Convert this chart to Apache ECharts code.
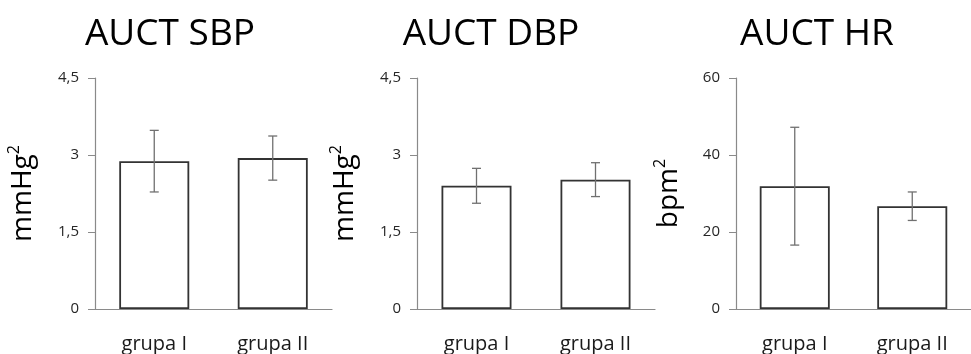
<!DOCTYPE html>
<html>
<head>
<meta charset="utf-8">
<script src="https://cdn.jsdelivr.net/npm/echarts@6/dist/echarts.min.js"></script>
<style>
  html, body { margin: 0; padding: 0; background: #fff; }
  #chart { width: 971px; height: 354px; }
</style>
</head>
<body>
<div id="chart"></div>
<script>
// Group labels
const categories = ['grupa I', 'grupa II'];

// AUCT SBP (mmHg²): mean and error
const sbpMean = [2.88, 2.94];
const sbpErr = [0.60, 0.43];

// AUCT DBP (mmHg²): mean and error
const dbpMean = [2.40, 2.52];
const dbpErr = [0.34, 0.33];

// AUCT HR (bpm²): mean and error
const hrMean = [31.9, 26.7];
const hrErr = [15.3, 3.7];

// Panel titles, units and axis ranges
const panelTitles = ['AUCT SBP', 'AUCT DBP', 'AUCT HR'];
const panelUnits = ['mmHg', 'mmHg', 'bpm'];
const axisMax = [4.5, 4.5, 60];
const axisStep = [1.5, 1.5, 20];

const FONT = '"Open Sans", "DejaVu Sans", sans-serif';
const AXIS_COLOR = '#8a8a8a';

const panels = [
  { mean: sbpMean, err: sbpErr, left: 95, width: 237, titleX: 165, nameGap: 55 },
  { mean: dbpMean, err: dbpErr, left: 417, width: 238, titleX: 486, nameGap: 55 },
  { mean: hrMean, err: hrErr, left: 736, width: 242, titleX: 812, nameGap: 50 }
];

const chart = echarts.init(document.getElementById('chart'), null, { renderer: 'canvas' });

const grid = [], xAxis = [], yAxis = [], series = [], title = [];

panels.forEach((p, i) => {
  title.push({
    text: panelTitles[i],
    left: p.titleX,
    top: 11,
    textAlign: 'center',
    textStyle: { fontFamily: FONT, fontSize: 37, fontWeight: 'normal', color: '#000' }
  });

  grid.push({ left: p.left, width: p.width, top: 78, height: 233, containLabel: false });

  xAxis.push({
    type: 'category',
    gridIndex: i,
    data: categories,
    axisLine: { lineStyle: { color: AXIS_COLOR, width: 1.2 } },
    axisTick: { show: false },
    axisLabel: { fontFamily: FONT, fontSize: 20, color: '#1a1a1a', margin: 25 }
  });

  yAxis.push({
    type: 'value',
    gridIndex: i,
    min: 0,
    max: axisMax[i],
    interval: axisStep[i],
    name: '{m|' + panelUnits[i] + '}{s|2}',
    nameLocation: 'middle',
    nameGap: p.nameGap,
    nameTextStyle: {
      fontFamily: FONT,
      color: '#000',
      rich: {
        m: { fontFamily: FONT, fontSize: 28, color: '#000', lineHeight: 34 },
        s: { fontFamily: FONT, fontSize: 16, color: '#000', verticalAlign: 'top', lineHeight: 34 }
      }
    },
    axisLine: { show: true, lineStyle: { color: AXIS_COLOR, width: 1.2 } },
    axisTick: { show: true, inside: false, length: 7, lineStyle: { color: AXIS_COLOR } },
    splitLine: { show: false },
    axisLabel: {
      fontFamily: FONT,
      fontSize: 15,
      color: '#262626',
      margin: 16,
      formatter: v => String(v).replace('.', ',')
    }
  });

  series.push({
    type: 'bar',
    xAxisIndex: i,
    yAxisIndex: i,
    data: p.mean,
    barWidth: 70,
    itemStyle: { color: '#ffffff', borderColor: '#333333', borderWidth: 1.8 },
    silent: true,
    animation: false
  });

  // Error bars: vertical whisker with short caps
  series.push({
    type: 'custom',
    xAxisIndex: i,
    yAxisIndex: i,
    data: p.mean.map((m, k) => [k, m, p.err[k]]),
    z: 10,
    silent: true,
    animation: false,
    renderItem: (params, api) => {
      const x = api.value(0), m = api.value(1), e = api.value(2);
      const top = api.coord([x, m + e]);
      const bot = api.coord([x, m - e]);
      const cap = 4.5;
      const style = { stroke: '#707070', lineWidth: 1.3 };
      return {
        type: 'group',
        children: [
          { type: 'line', shape: { x1: top[0], y1: top[1], x2: bot[0], y2: bot[1] }, style },
          { type: 'line', shape: { x1: top[0] - cap, y1: top[1], x2: top[0] + cap, y2: top[1] }, style },
          { type: 'line', shape: { x1: bot[0] - cap, y1: bot[1], x2: bot[0] + cap, y2: bot[1] }, style }
        ]
      };
    }
  });
});

chart.setOption({
  backgroundColor: '#ffffff',
  animation: false,
  title,
  grid,
  xAxis,
  yAxis,
  series
});
</script>
</body>
</html>
